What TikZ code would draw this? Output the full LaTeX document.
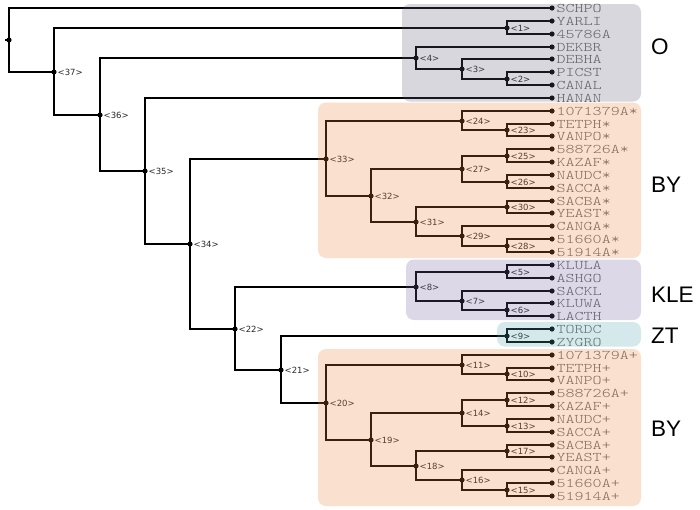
\documentclass[tikz,border=0pt]{standalone}
\usepackage{fontspec}
\usetikzlibrary{calc}
\newfontfamily\leaffont[FakeStretch=1.3]{lmmonolt10-regular.otf}
\newfontfamily\cladefont{DejaVu Sans}
\newfontfamily\groupfont{Liberation Sans}

\definecolor{leafgrey}{RGB}{100,100,100}
\definecolor{cladeink}{RGB}{40,40,40}
\definecolor{grpO}{RGB}{99,95,123}
\definecolor{grpBY}{RGB}{235,131,59}
\definecolor{grpKLE}{RGB}{115,99,163}
\definecolor{grpZT}{RGB}{87,163,175}

\tikzset{
  branch/.style={line width=1.8pt, black},
  dot/.style={black},
  leaflabel/.style={anchor=west, inner sep=0pt, text=leafgrey,
    font=\leaffont\fontsize{13.2}{14}\selectfont, text height=8pt, text depth=0pt},
  cladelabel/.style={anchor=west, inner sep=0pt, text=cladeink,
    font=\cladefont\fontsize{8.5}{9}\selectfont},
  groupbox/.style={fill=#1, fill opacity=0.25, rounded corners=8pt},
  grouplabel/.style={anchor=base west, inner sep=0pt, text=black,
    font=\groupfont\fontsize{22.5}{24}\selectfont},
}

% clade: number, height above the leaves, first child, second child;
% positions are kept on the whole-unit grid so all branches look alike
\newcommand\clade[4]{%
  \path let \p1=($(#3)!0.5!(#4)$), \n1={round(\y1)*1pt},
            \n2={round(552-#2*45.25)*1pt} in (\n2,\n1) coordinate (n#1);
  \draw[branch] (#3) -| (n#1) |- (#4);
  \fill[dot] (n#1) circle (2.6pt);
  \node[cladelabel] (n#1-t) at ([xshift=3.5pt]n#1) {<#1>};
}

\begin{document}
\begin{tikzpicture}[x=1pt,y=-1pt]
\useasboundingbox (0,0) rectangle (700,509);

% leaves
\foreach \nm/\txt [count=\i from 0] in {schpo/SCHPO, yarli/YARLI, y45786/45786A,
  dekbr/DEKBR, debha/DEBHA, picst/PICST, canal/CANAL, hanan/HANAN,
  sa1071/1071379A*, stetph/TETPH*, svanpo/VANPO*, s588/588726A*, skazaf/KAZAF*,
  snaudc/NAUDC*, ssacca/SACCA*, ssacba/SACBA*, syeast/YEAST*, scanga/CANGA*,
  s51660/51660A*, s51914/51914A*,
  klula/KLULA, ashgo/ASHGO, sackl/SACKL, kluwa/KLUWA, lacth/LACTH,
  tordc/TORDC, zygro/ZYGRO,
  p1071/1071379A+, ptetph/TETPH+, pvanpo/VANPO+, p588/588726A+, pkazaf/KAZAF+,
  pnaudc/NAUDC+, psacca/SACCA+, psacba/SACBA+, pyeast/YEAST+, pcanga/CANGA+,
  p51660/51660A+, p51914/51914A+}
{
  \coordinate (\nm) at (552,{round(8+12.842*\i)});
  \fill[dot] (\nm) circle (2.6pt);
  \node[leaflabel] (\nm-t) at ([xshift=4.5pt]\nm) {\txt};
}

% clades, from the leaves towards the root
\clade{1}{1}{yarli}{y45786}
\clade{2}{1}{picst}{canal}
\clade{3}{2}{debha}{n2}
\clade{4}{3}{dekbr}{n3}
\clade{23}{1}{stetph}{svanpo}
\clade{24}{2}{sa1071}{n23}
\clade{25}{1}{s588}{skazaf}
\clade{26}{1}{snaudc}{ssacca}
\clade{27}{2}{n25}{n26}
\clade{30}{1}{ssacba}{syeast}
\clade{28}{1}{s51660}{s51914}
\clade{29}{2}{scanga}{n28}
\clade{31}{3}{n30}{n29}
\clade{32}{4}{n27}{n31}
\clade{33}{5}{n24}{n32}
\clade{5}{1}{klula}{ashgo}
\clade{6}{1}{kluwa}{lacth}
\clade{7}{2}{sackl}{n6}
\clade{8}{3}{n5}{n7}
\clade{9}{1}{tordc}{zygro}
\clade{10}{1}{ptetph}{pvanpo}
\clade{11}{2}{p1071}{n10}
\clade{12}{1}{p588}{pkazaf}
\clade{13}{1}{pnaudc}{psacca}
\clade{14}{2}{n12}{n13}
\clade{17}{1}{psacba}{pyeast}
\clade{15}{1}{p51660}{p51914}
\clade{16}{2}{pcanga}{n15}
\clade{18}{3}{n17}{n16}
\clade{19}{4}{n14}{n18}
\clade{20}{5}{n11}{n19}
\clade{21}{6}{n9}{n20}
\clade{22}{7}{n8}{n21}
\clade{34}{8}{n33}{n22}
\clade{35}{9}{hanan}{n34}
\clade{36}{10}{n4}{n35}
\clade{37}{11}{n1}{n36}

% root with its stem
\path let \p1=($(schpo)!0.5!(n37)$), \n1={round(\y1)*1pt} in (9pt,\n1) coordinate (root);
\draw[branch] (schpo) -| (root) |- (n37);
\coordinate (stem) at ([xshift=-4pt]root);
\draw[branch] (stem) -- (root);
\fill[dot] (root) circle (2.6pt);

% group boxes, laid over the tree
\fill[groupbox=grpO]   (402,4)     rectangle (641,101.5);
\fill[groupbox=grpBY]  (318,102.5) rectangle (641,258);
\fill[groupbox=grpKLE] (406,259.5) rectangle (641,320);
\fill[groupbox=grpZT]  (497,322)   rectangle (641,346.5);
\fill[groupbox=grpBY]  (318,349)   rectangle (641,506);

% group names
\node[grouplabel] (gO)   at (651,54.5) {O};
\node[grouplabel] (gBY1) at (651,192)  {BY};
\node[grouplabel] (gKLE) at (651,302)  {KLE};
\node[grouplabel] (gZT)  at (651,343)  {ZT};
\node[grouplabel] (gBY2) at (651,436)  {BY};
\end{tikzpicture}
\end{document}
